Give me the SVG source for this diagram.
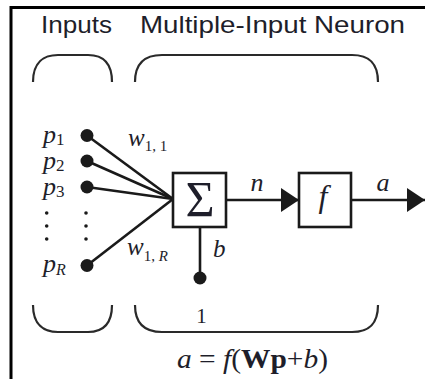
<svg xmlns="http://www.w3.org/2000/svg" width="425" height="379" viewBox="0 0 425 379">
<defs>
<style>
.ttl{font-family:"Liberation Sans",Arial,sans-serif;font-size:24px;fill:#1e1e2a}
.m{font-family:"Liberation Serif","Times New Roman",serif;fill:#1e1e2a}
.it{font-style:italic}
.ln{stroke:#1a1a1a;stroke-width:2.6;fill:none}
.box{fill:#fff;stroke:#1a1a1a;stroke-width:2.6}
.br{stroke:#2a2a2a;stroke-width:2.2;fill:none}
.dot{fill:#1a1a1a}
</style>
<marker id="ah" markerUnits="userSpaceOnUse" markerWidth="19" markerHeight="24" refX="18" refY="12" orient="auto">
<path d="M0,0 L18,12 L0,24 z" fill="#1a1a1a"/>
</marker>
</defs>
<rect width="425" height="379" fill="#fff"/>
<path d="M11,379 V7.5 H425" fill="none" stroke="#000" stroke-width="3"/>
<g id="titles">
<text class="ttl" x="41" y="33" textLength="71" lengthAdjust="spacingAndGlyphs">Inputs</text>
<text class="ttl" x="140" y="33" textLength="265" lengthAdjust="spacingAndGlyphs">Multiple-Input Neuron</text>
</g>
<g id="braces">
<path class="br" d="M33,82 C33,62 44,55 58,55 L88,55 C102,55 112,62 112,82"/>
<path class="br" d="M135,82 C135,62 146,55 162,55 L352,55 C368,55 378,62 378,82"/>
<path class="br" d="M33,305 C33,325 44,332 58,332 L88,332 C102,332 112,325 112,305"/>
<path class="br" d="M135,305 C135,325 146,332 162,332 L352,332 C368,332 378,325 378,305"/>
</g>
<g id="connectors">
<line class="ln" x1="87" y1="135.5" x2="173" y2="199"/>
<line class="ln" x1="87" y1="161" x2="173" y2="199"/>
<line class="ln" x1="87" y1="187" x2="173" y2="199"/>
<line class="ln" x1="87" y1="265.5" x2="173" y2="199"/>
<line class="ln" x1="226" y1="200" x2="299" y2="200" marker-end="url(#ah)"/>
<line class="ln" x1="351" y1="200" x2="425" y2="200" marker-end="url(#ah)"/>
<line class="ln" x1="200" y1="227" x2="200" y2="277"/>
</g>
<g id="inputs">
<circle class="dot" cx="87" cy="135.5" r="6.5"/>
<circle class="dot" cx="87" cy="161" r="6.5"/>
<circle class="dot" cx="87" cy="187" r="6.5"/>
<circle class="dot" cx="87" cy="265.5" r="6.5"/>
<g class="dot">
<circle cx="46.7" cy="213" r="1.8"/><circle cx="46.7" cy="226" r="1.8"/><circle cx="46.7" cy="239" r="1.8"/>
<circle cx="86" cy="213" r="1.8"/><circle cx="86" cy="226" r="1.8"/><circle cx="86" cy="239" r="1.8"/>
</g>
<text class="m" x="43" y="143"><tspan class="it" font-size="26">p</tspan><tspan font-size="17" dy="2">1</tspan></text>
<text class="m" x="43" y="169"><tspan class="it" font-size="26">p</tspan><tspan font-size="17" dy="2">2</tspan></text>
<text class="m" x="43" y="195"><tspan class="it" font-size="26">p</tspan><tspan font-size="17" dy="2">3</tspan></text>
<text class="m" x="43" y="272"><tspan class="it" font-size="26">p</tspan><tspan class="it" font-size="16" dy="3">R</tspan></text>
<text class="m" x="128" y="146"><tspan class="it" font-size="25">w</tspan><tspan font-size="15" dy="5">1, 1</tspan></text>
<text class="m" x="127" y="255"><tspan class="it" font-size="25">w</tspan><tspan font-size="15" dy="6">1, </tspan><tspan class="it" font-size="15">R</tspan></text>
</g>
<g id="sum">
<rect class="box" x="173" y="173" width="53" height="54"/>
<text class="m" x="200" y="216" font-size="50" text-anchor="middle">Σ</text>
</g>
<g id="transfer">
<rect class="box" x="299" y="173" width="52" height="54"/>
<text class="m it" x="323" y="207" font-size="32" text-anchor="middle">f</text>
</g>
<g id="bias">
<circle class="dot" cx="200" cy="278" r="6.5"/>
<text class="m it" x="213" y="257" font-size="25">b</text>
<text class="m" x="201.5" y="323" font-size="21" text-anchor="middle">1</text>
</g>
<g id="labels">
<text class="m it" x="257" y="190.5" font-size="26" text-anchor="middle">n</text>
<text class="m it" x="383" y="190.5" font-size="26" text-anchor="middle">a</text>
<text class="m" x="177" y="368" font-size="27" textLength="151" lengthAdjust="spacingAndGlyphs"><tspan class="it">a</tspan> = <tspan class="it">f</tspan>(<tspan font-weight="bold">Wp</tspan>+<tspan class="it">b</tspan>)</text>
</g>
</svg>
